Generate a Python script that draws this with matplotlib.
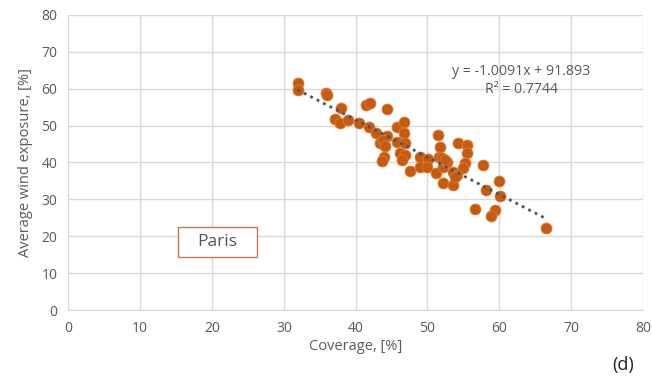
import matplotlib
matplotlib.use("Agg")
import matplotlib.pyplot as plt
from matplotlib.patches import Rectangle
import numpy as np

plt.rcParams['font.family'] = ['Open Sans', 'DejaVu Sans']

# Coverage [%] vs average wind exposure [%] for Paris blocks
coverage = [31.9, 31.9, 35.8, 36.0, 38.0, 41.4, 42.0, 44.3, 37.1, 37.8,
            38.9, 40.5, 41.8, 42.9, 44.4, 45.7, 46.7, 46.8, 43.4, 43.8,
            44.1, 45.7, 46.9, 46.2, 46.9, 46.5, 43.9, 43.6, 47.6, 51.5,
            51.7, 51.6, 52.2, 49.0, 50.1, 49.0, 49.9, 51.2, 52.1, 52.1,
            53.6, 53.6, 54.2, 55.5, 55.5, 55.2, 54.9, 54.1, 52.7, 52.0,
            52.4, 53.8, 57.8, 60.0, 58.1, 60.1, 56.6, 59.4, 58.9, 66.5]
exposure = [61.6, 59.6, 58.9, 58.4, 54.7, 55.7, 56.0, 54.4, 51.9, 50.6,
            51.5, 50.8, 49.7, 47.9, 47.2, 49.7, 51.0, 48.1, 45.2, 46.1,
            44.4, 45.6, 45.2, 42.5, 42.0, 40.7, 41.5, 40.5, 37.8, 47.4,
            44.1, 41.5, 40.8, 41.5, 40.8, 38.8, 38.7, 37.2, 38.8, 34.5,
            37.5, 33.9, 45.2, 44.7, 42.5, 39.8, 38.4, 36.6, 40.2, 41.1,
            40.6, 36.0, 39.2, 35.0, 32.5, 30.9, 27.3, 27.1, 25.5, 22.3]

slope = -1.0091
intercept = 91.893
r_squared = 0.7744

x_ticks = [0, 10, 20, 30, 40, 50, 60, 70, 80]
y_ticks = [0, 10, 20, 30, 40, 50, 60, 70, 80]

grey = '#595959'
grid_c = '#d9d9d9'
dot_c = '#C55A11'

fig = plt.figure(figsize=(6.52, 3.80), dpi=100)
ax = fig.add_axes([0.105, 0.184, 0.881, 0.777])

ax.scatter(coverage, exposure, s=62, color=dot_c, edgecolor='#E07B39',
           linewidth=0.6, zorder=3)

x_line = np.array([min(coverage), max(coverage)])
ax.plot(x_line, slope * x_line + intercept, linestyle=(0, (1, 1.6)),
        color='#44546A', linewidth=2.0, zorder=4)

ax.set_xlim(0, 80)
ax.set_ylim(0, 80)
ax.set_xticks(x_ticks)
ax.set_yticks(y_ticks)
ax.grid(True, color=grid_c, linewidth=1.0, zorder=0)
ax.set_axisbelow(True)
for side in ['top', 'right', 'left']:
    ax.spines[side].set_visible(False)
ax.spines['bottom'].set_color(grid_c)
ax.tick_params(length=0, labelsize=10, colors=grey, pad=8)

ax.set_xlabel('Coverage, [%]', fontsize=10.5, color=grey, labelpad=2)
ax.set_ylabel('Average wind exposure, [%]', fontsize=10.5, color=grey, labelpad=6)

eq = f'y = {slope:.4f}x + {intercept:.3f}\nR² = {r_squared:.4f}'
ax.text(0.788, 0.778, eq, transform=ax.transAxes, ha='center', va='center',
        fontsize=10.2, color=grey, linespacing=1.25)

# "Paris" label box
ax.add_patch(Rectangle((15.3, 14.4), 10.9, 8.0, facecolor='white',
                       edgecolor='#C8794A', linewidth=1.0, zorder=5))
ax.text(20.75, 18.4, 'Paris', ha='center', va='center', fontsize=12.5,
        color='#555555', zorder=6)

fig.text(0.955, 0.040, '(d)', ha='center', va='center', fontsize=13, color='#222222')

fig.savefig('out.png', dpi=100)
